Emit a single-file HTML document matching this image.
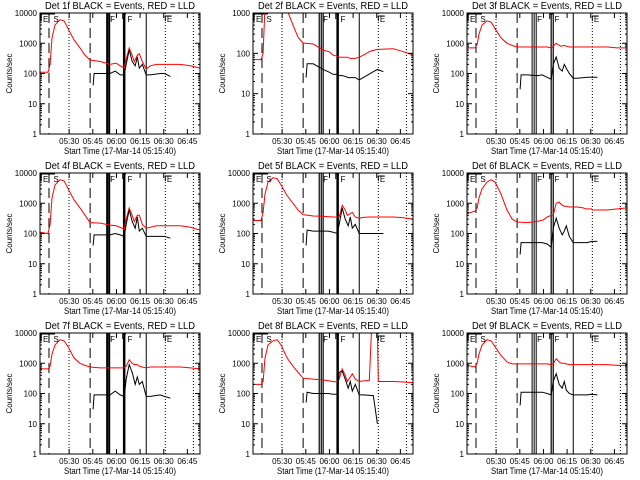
<!DOCTYPE html>
<html><head><meta charset="utf-8"><style>
body{margin:0;background:#fff}
svg{display:block}
text{font-family:"Liberation Sans",sans-serif;fill:#000}
</style></head><body>
<svg id="chart" width="640" height="480" viewBox="0 0 640 480">
<rect width="640" height="480" fill="#fff"/>
</svg>
<script>
// time in minutes after 05:00
const redTimes=[11.5,16.6,17.9,19.1,21,24.2,26.8,29.3,33.1,36.9,40.1,43.3,49.7,56,59.8,62.4,64.9,66.2,68.1,70,71.3,73.2,74.5,76.4,78.9,81.5,85.3,86.6,90.4,91,100.5,106.9,113];
const blackTimes=[45.2,45.8,49.7,56,59.2,62.4,64.9,66.2,68.1,70,71.9,73.2,74.5,76.4,78.9,81.5,87.8,90.4,94.2];
const detNames=["1f","2f","3f","4f","5f","6f","7f","8f","9f"];
const yMaxDecade=[4,3,4,4,4,4,4,4,4];
const red1=[110,110,200,1500,4000,6000,5500,3000,1300,700,400,280,250,200,220,180,150,300,700,400,250,400,450,250,140,180,200,200,200,200,200,180,150];
const red2=[70,70,100,1500,4000,6000,5000,3000,1200,500,250,180,170,120,110,90,85,80,80,80,80,75,75,75,80,90,110,115,125,125,130,110,90];
const red3=[700,700,900,2000,4000,5500,5000,3000,1500,1000,850,750,750,750,750,750,700,800,1000,850,800,850,800,750,750,750,750,750,750,750,750,700,700];
const red4=[110,100,200,1500,4000,6000,5500,3000,1300,700,400,230,220,190,180,160,140,300,700,400,250,400,400,200,150,160,180,180,180,180,180,160,130];
const red5=[270,270,500,2000,5000,7000,6500,4000,1800,1000,600,420,380,370,360,350,350,350,850,600,400,450,500,350,320,340,350,350,350,350,350,330,300];
const red6=[450,550,700,1500,3000,5000,6000,5000,2000,600,300,240,230,250,280,350,400,400,1000,1100,900,800,800,750,750,750,700,650,650,600,600,650,700];
const red7=[650,650,800,2000,4000,6000,5500,3500,1500,1000,850,750,700,700,700,700,700,800,1300,1000,900,900,800,750,700,750,750,750,750,750,750,700,650];
const red8=[200,200,250,1500,4000,5500,6000,4000,1500,800,500,320,300,280,260,250,240,300,650,400,250,350,450,300,250,260,270,10000,10000,250,250,240,230];
const red9=[850,750,1000,2000,4000,6000,5500,3500,1800,1100,950,950,950,950,950,950,900,950,1400,1100,1000,1000,950,900,900,900,900,900,900,900,900,850,850];
const black1=[40,100,100,100,120,90,90,200,600,250,180,350,150,200,90,90,100,100,80];
const black2=[25,55,55,40,35,30,30,28,28,27,25,25,25,25,22,25,35,40,35];
const black3=[30,90,90,85,90,75,65,200,350,150,120,200,150,100,70,70,75,75,75];
const black4=[40,90,90,90,100,90,80,200,600,250,150,350,120,150,80,80,80,80,70];
const black5=[40,130,120,120,120,110,100,200,700,300,180,350,150,200,100,100,100,100,100];
const black6=[20,50,50,50,50,45,35,150,320,150,90,120,180,80,50,50,50,55,55];
const black7=[30,90,90,90,120,90,80,300,900,500,200,350,200,250,80,80,90,80,70];
const black8=[50,110,100,100,100,95,95,500,550,300,150,250,120,200,90,90,85,10,null];
const black9=[40,110,110,110,110,100,90,250,450,200,150,250,130,100,90,90,90,95,90];
const redSeries=[red1,red2,red3,red4,red5,red6,red7,red8,red9];
const blackSeries=[black1,black2,black3,black4,black5,black6,black7,black8,black9];
const tickLabels=["05:30","05:45","06:00","06:15","06:30","06:45"];
const tickTimes=[30,45,60,75,90,105];
const dashedTimes=[17.2,43.3];
const dottedTimes=[29.9,91,108.8];
const eventsCol=[
  {thick:[[54.1,2],[55.4,2],[64.9,2.5]],thin:[78.9]},
  {thick:[[53.5,1.2],[54.8,1.2],[56,1.2],[65.2,2.5]],thin:[78.9]},
  {thick:[[52.8,1],[54.1,1],[55.4,1],[64.9,1.2],[66.2,1.2]],thin:[78.9]}
];
const NS="http://www.w3.org/2000/svg";
const svg=document.getElementById('chart');
function mk(tag,attrs,parent){const e=document.createElementNS(NS,tag);for(const k in attrs)e.setAttribute(k,attrs[k]);parent.appendChild(e);return e;}
const T0=11.5,T1=113,W=160,H=121;
const colX=[40,253,467],rowY=[13,173,333];
for(let i=0;i<9;i++){
  const c=i%3,r=Math.floor(i/3),L=colX[c],Tp=rowY[r],B=Tp+H;
  const dmax=yMaxDecade[i];
  const xs=t=>L+(t-T0)/(T1-T0)*W;
  const ys=v=>B-Math.log10(v)/dmax*H;
  const g=mk('g',{},svg);
  
  
  const cp=mk('clipPath',{id:'cp'+i},g);
  mk('rect',{x:L,y:Tp,width:W,height:H},cp);
  // event lines
  const ev=mk('g',{'clip-path':'url(#cp'+i+')'},g);
  
  
  dashedTimes.forEach(t=>{mk('line',{x1:xs(t),x2:xs(t),y1:Tp,y2:B,stroke:'#000','stroke-width':1,'stroke-dasharray':'10,5'},ev);});
  dottedTimes.forEach(t=>{mk('line',{x1:xs(t),x2:xs(t),y1:Tp,y2:B,stroke:'#000','stroke-width':1,'stroke-dasharray':'1,2'},ev);});
  eventsCol[c].thick.forEach(a=>{mk('line',{x1:xs(a[0]),x2:xs(a[0]),y1:Tp,y2:B,stroke:'#000','stroke-width':a[1]},ev);});
  eventsCol[c].thin.forEach(t=>{mk('line',{x1:xs(t),x2:xs(t),y1:Tp,y2:B,stroke:'#000','stroke-width':1},ev);});
  // markers at top
  const mkp=mk('path',{d:`M${L+1} ${Tp+8}V${Tp+1}H${xs(21)}M${xs(64)} ${Tp+6}V${Tp+1}H${xs(66)}M${xs(91)} ${Tp+8}V${Tp+3}H${xs(95)}`,fill:'none',stroke:'#000','stroke-width':1},g);
  
  
  // series
  const pathOf=(ts,vs)=>{let d='',pen=false;vs.forEach((v,k)=>{if(v==null){pen=false;return;}d+=(pen?'L':'M')+xs(ts[k]).toFixed(1)+' '+ys(v).toFixed(1);pen=true;});return d;};
  const rp=mk('path',{d:pathOf(redTimes,redSeries[i]),fill:'none',stroke:'#f00','stroke-width':1,'clip-path':'url(#cp'+i+')'},g);
  
  
  const bp=mk('path',{d:pathOf(blackTimes,blackSeries[i]),fill:'none',stroke:'#000','stroke-width':1,'clip-path':'url(#cp'+i+')'},g);
  
  
  // box
  const bx=mk('rect',{x:L,y:Tp,width:W,height:H,fill:'none',stroke:'#000','stroke-width':1},g);
  
  
  // y ticks
  for(let d=0;d<=dmax;d++){
    const y=ys(Math.pow(10,d));
    mk('line',{x1:L,x2:L+5,y1:y,y2:y,stroke:'#000'},g);
    mk('line',{x1:L+W-5,x2:L+W,y1:y,y2:y,stroke:'#000'},g);
    if(d<dmax)for(let m=2;m<10;m++){const ym=ys(m*Math.pow(10,d));mk('line',{x1:L,x2:L+2,y1:ym,y2:ym,stroke:'#000'},g);mk('line',{x1:L+W-2,x2:L+W,y1:ym,y2:ym,stroke:'#000'},g);}
    const s=String(Math.pow(10,d));
    const tl=mk('text',{x:L-3,y:y+3,'font-size':8,'text-anchor':'end'},g);
    tl.textContent=s;
    
    
  }
  // x ticks
  tickTimes.forEach((t,k)=>{
    const x=xs(t);
    mk('line',{x1:x,x2:x,y1:B,y2:B-5,stroke:'#000'},g);
    mk('line',{x1:x,x2:x,y1:Tp,y2:Tp+5,stroke:'#000'},g);
    const xl=mk('text',{x:x,y:B+10,'font-size':8,'text-anchor':'middle'},g);
    xl.textContent=tickLabels[k];
    
    
  });
  const xt=mk('text',{x:L+W/2,y:B+20,'font-size':9,'text-anchor':'middle',textLength:112,lengthAdjust:'spacingAndGlyphs'},g);
  xt.textContent='Start Time (17-Mar-14 05:15:40)';
  
  
  const yt=mk('text',{x:0,y:0,'font-size':8,'text-anchor':'middle',transform:`translate(${L-28},${Tp+H/2}) rotate(-90)`},g);
  yt.textContent='Counts/sec';
  
  
  const tt=mk('text',{x:L+W/2,y:Tp-4,'font-size':10,'text-anchor':'middle',textLength:150,lengthAdjust:'spacingAndGlyphs'},g);
  tt.textContent='Det '+detNames[i]+' BLACK = Events, RED = LLD';
  
  
  const lab=[["E",L+3],["S",xs(20)],["F",xs(56)],["F",xs(67)],["E",xs(92)]];
  lab.forEach(a=>{const e=mk('text',{x:a[1],y:Tp+9,'font-size':8},g);e.textContent=a[0];
    
    });
}
</script>
</body></html>
